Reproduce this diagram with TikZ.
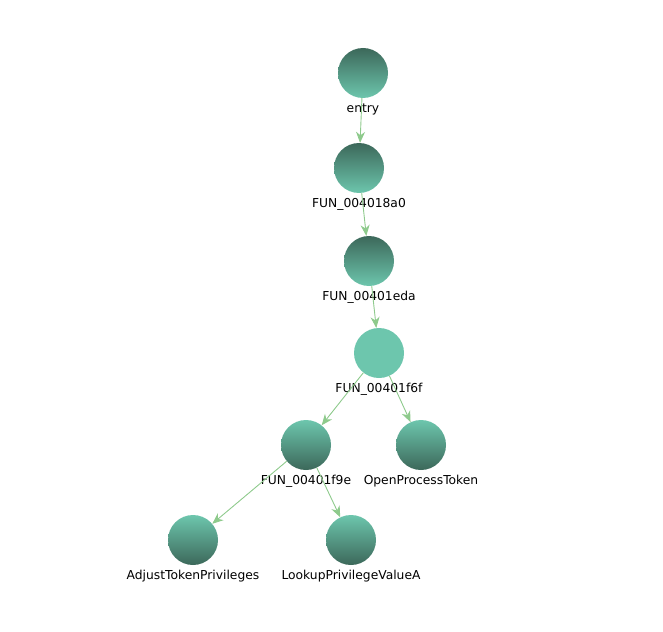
\documentclass[tikz,border=0pt]{standalone}
\usepackage{fontspec}
\setmainfont{DejaVu Sans}
\usepackage{tikz}
\usetikzlibrary{arrows.meta}

\definecolor{fnlight}{RGB}{109,198,173}
\definecolor{fndark}{RGB}{60,104,90}
\definecolor{calledge}{RGB}{142,202,140}

\tikzset{
	fn/.style={circle, minimum size=50pt, inner sep=0pt, draw=none,
		label={[font=\fontsize{12.3}{14}\selectfont, inner sep=1.5pt, label distance=3.5pt]below:#1}},
	fntop/.style={fn=#1, top color=fndark, middle color=fnlight, bottom color=fnlight},
	fnflat/.style={fn=#1, fill=fnlight},
	fnbot/.style={fn=#1, top color=fnlight, middle color=fnlight, bottom color=fndark},
	call/.style={draw=calledge, line width=0.9pt, -{Stealth[length=11pt, width=9pt, inset=3.5pt]}},
}

\begin{document}
\begin{tikzpicture}[x=1pt, y=-1pt]
	\useasboundingbox (0,0) rectangle (663,631);
	\node [fntop=entry] (entry) at (363,73) {};
	\node [fntop=FUN\_004018a0] (f18a0) at (359,168) {};
	\node [fntop=FUN\_00401eda] (f1eda) at (369,261) {};
	\node [fnflat=FUN\_00401f6f] (f1f6f) at (379,353) {};
	\node [fnbot=FUN\_00401f9e] (f1f9e) at (306,445) {};
	\node [fnbot=OpenProcessToken] (opt) at (421,445) {};
	\node [fnbot=AdjustTokenPrivileges] (atp) at (193,540) {};
	\node [fnbot=LookupPrivilegeValueA] (lpv) at (351,540) {};
	%
	\draw [call] (entry) -- (f18a0);
	\draw [call] (f18a0) -- (f1eda);
	\draw [call] (f1eda) -- (f1f6f);
	\draw [call] (f1f6f) -- (f1f9e);
	\draw [call] (f1f6f) -- (opt);
	\draw [call] (f1f9e) -- (atp);
	\draw [call] (f1f9e) -- (lpv);
\end{tikzpicture}
\end{document}
